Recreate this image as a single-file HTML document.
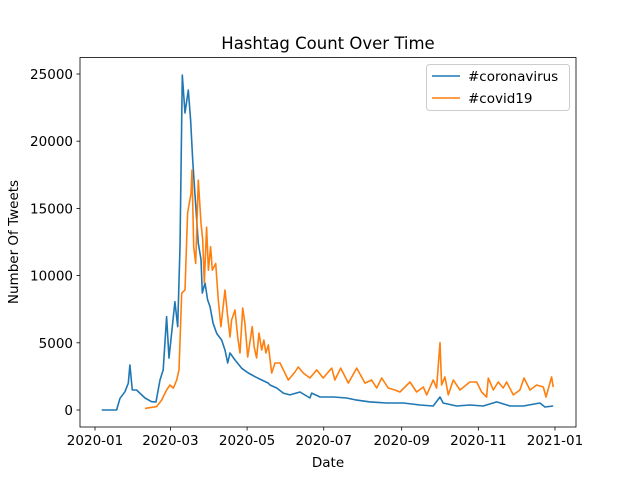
<!DOCTYPE html>
<html><head><meta charset="utf-8"><style>
body{margin:0;background:#fff}
svg{display:block;font-family:"DejaVu Sans","Liberation Sans",sans-serif}
</style></head><body>
<svg id="chart" width="640" height="480">
<rect width="640" height="480" fill="#fff"/>
<text x="328" y="49" font-size="16.5" text-anchor="middle">Hashtag Count Over Time</text>
<text x="328" y="467" font-size="13.5" text-anchor="middle">Date</text>
<text transform="translate(18,242) rotate(-90)" font-size="13.5" text-anchor="middle">Number Of Tweets</text>
<g id="ticks"></g>
<g id="series"></g>
<rect x="80" y="57.5" width="496" height="369.5" fill="none" stroke="#000" stroke-width="0.8"/>
<g>
<rect x="426.5" y="64.5" width="143" height="46" rx="3" fill="#fff" fill-opacity="0.8" stroke="#ccc"/>
<line x1="432" y1="76" x2="460" y2="76" stroke="#1f77b4" stroke-width="1.5"/>
<text x="468" y="81" font-size="13.5">#coronavirus</text>
<line x1="432" y1="98" x2="460" y2="98" stroke="#ff7f0e" stroke-width="1.5"/>
<text x="468" y="103" font-size="13.5">#covid19</text>
</g>
</svg>
<script>
const coronaDays=[5.3,17.2,19.9,23.9,26.5,27.8,29.7,33,39.8,45,48.5,51.7,54.3,57,58.9,61.5,63.6,65.8,67.6,69.5,71.6,74.2,76.1,77.7,79.5,82.2,84.3,85.4,87.5,89.6,91.5,94,96.8,100.8,103.4,105.6,107.4,111.4,116.7,122,127.3,132.6,137.9,139.2,144.6,149.8,155.1,163.1,171,172.4,179,189.6,200.2,208.2,218.8,232,245.3,258.6,269.1,274.5,277,287.7,298.3,308.9,319.6,330.2,340.8,354,358,364.6];
const coronaValues=[0,0,870,1360,2000,3350,1490,1490,890,620,600,2230,2980,6940,3860,6200,8060,6200,12150,24920,22100,23800,21600,18600,16100,12400,11200,8700,9450,8200,7700,6450,5700,5200,4460,3500,4240,3720,3100,2750,2480,2230,2000,1860,1640,1260,1120,1340,890,1260,970,970,890,740,600,520,520,370,300,970,520,300,370,300,600,300,300,520,220,300];
const covidDays=[39.8,49,53,57,59.7,62.3,65,66.8,69,71.6,73.7,76.4,77.2,78.5,80.1,82.2,84.3,85.7,87,88.8,90.2,92,93.3,96,98.1,100.2,103.4,105.6,107.4,108.7,111.4,113.5,115.4,117.5,119.3,121.5,125.1,126.7,128.6,130.5,132.6,134.4,136,137.9,140.6,143.2,147.2,153.8,159.1,161.7,165.7,171,176.4,181.6,188.3,190.9,195.5,201.5,208.2,214.8,220.1,224.1,228.1,233.3,238.7,242.6,250.6,255.9,261.2,263.9,269.1,271.8,274.5,275.8,278.4,281.1,285.1,290.4,298.3,303.7,307.6,311.6,312.9,316.9,320.8,324.8,327.5,332.8,338.1,341.3,346.1,351.4,356.7,358.8,363.3,364.6];
const covidValues=[120,250,740,1490,1860,1620,2230,2980,8700,8930,14650,16100,17860,12150,10900,17100,13900,12650,9450,13600,10400,12150,10400,10900,8200,6200,8930,6940,5430,6700,7440,5430,4240,7590,6450,3940,6200,4690,3870,5730,4460,5200,4240,4840,2750,3500,3500,2230,2830,3200,2750,2380,2980,2380,3120,2230,3120,2000,3120,2000,2230,1640,2380,1640,1490,1340,2080,1340,1710,1120,2230,1640,5010,1860,2460,1120,2230,1490,2080,2080,1340,970,2380,1490,2080,1640,2080,1120,1490,2380,1490,1860,1710,970,2460,1710];
const yTicks=[0,5000,10000,15000,20000,25000];
const xTickDays=[0,60,121,182,244,305,366];
const xTickLabels=["2020-01","2020-03","2020-05","2020-07","2020-09","2020-11","2021-01"];

const NS="http://www.w3.org/2000/svg";
function xs(d){return 95+d*(460/366);}
function ys(v){return 410-v*(336/25000);}
const tg=document.getElementById('ticks');
yTicks.forEach(v=>{
  const l=document.createElementNS(NS,'line');
  l.setAttribute('x1',76.5);l.setAttribute('x2',80);l.setAttribute('y1',ys(v));l.setAttribute('y2',ys(v));l.setAttribute('stroke','#000');l.setAttribute('stroke-width','0.8');
  
  
  tg.appendChild(l);
  const t=document.createElementNS(NS,'text');
  t.setAttribute('x',73);t.setAttribute('y',ys(v)+5);t.setAttribute('font-size','13.5');t.setAttribute('text-anchor','end');t.textContent=v;
  
  
  tg.appendChild(t);
});
xTickDays.forEach((d,i)=>{
  const l=document.createElementNS(NS,'line');
  l.setAttribute('x1',xs(d));l.setAttribute('x2',xs(d));l.setAttribute('y1',427);l.setAttribute('y2',430.5);l.setAttribute('stroke','#000');l.setAttribute('stroke-width','0.8');
  
  
  tg.appendChild(l);
  const t=document.createElementNS(NS,'text');
  t.setAttribute('x',xs(d));t.setAttribute('y',445);t.setAttribute('font-size','13.5');t.setAttribute('text-anchor','middle');t.textContent=xTickLabels[i];
  
  
  tg.appendChild(t);
});
const sg=document.getElementById('series');
function line(days,vals,color,name){
  const p=document.createElementNS(NS,'polyline');
  p.setAttribute('points',days.map((d,i)=>xs(d).toFixed(1)+','+ys(vals[i]).toFixed(1)).join(' '));
  p.setAttribute('fill','none');p.setAttribute('stroke',color);p.setAttribute('stroke-width','1.6');p.setAttribute('stroke-linejoin','round');
  
  
  sg.appendChild(p);
}
line(coronaDays,coronaValues,'#1f77b4','coronavirus-line');
line(covidDays,covidValues,'#ff7f0e','covid19-line');
</script>
</body></html>
